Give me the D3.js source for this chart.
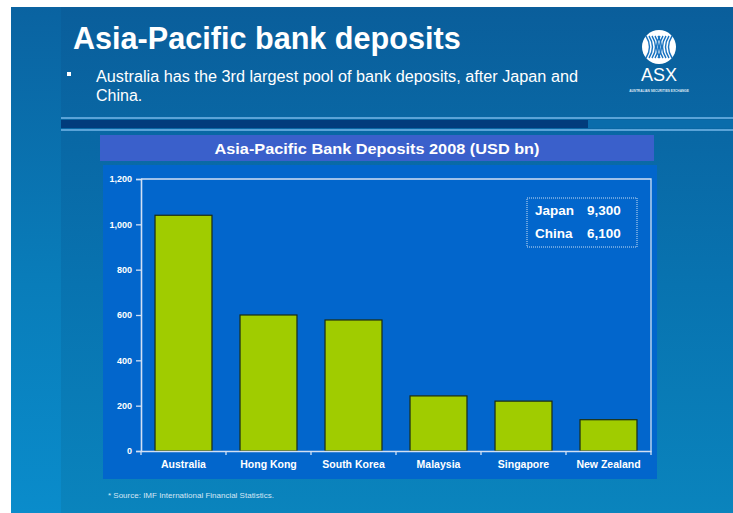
<!DOCTYPE html>
<html>
<head>
<meta charset="utf-8">
<script src="https://cdn.jsdelivr.net/npm/d3@7"></script>
<style>
  body { margin: 0; background: #fff; }
  svg { display: block; font-family: "Liberation Sans", Arial, sans-serif; }
</style>
</head>
<body>
<svg id="canvas" width="733" height="513"></svg>
<script>
'use strict';

/* chart data */
const countries = ['Australia', 'Hong Kong', 'South Korea', 'Malaysia', 'Singapore', 'New Zealand'];
const deposits = [1040, 600, 578, 243, 220, 138];
const yTicks = [0, 200, 400, 600, 800, 1000, 1200];
const offChart = [{name: 'Japan', value: '9,300'}, {name: 'China', value: '6,100'}];

const svg = d3.select('#canvas');
const defs = svg.append('defs');

/* slide background */
const bg = defs.append('linearGradient').attr('id', 'bg').attr('x1', 0).attr('y1', 0).attr('x2', 0).attr('y2', 1);
bg.append('stop').attr('offset', 0).attr('stop-color', '#0a5e9b');
bg.append('stop').attr('offset', 0.55).attr('stop-color', '#0873b0');
bg.append('stop').attr('offset', 1).attr('stop-color', '#0a84bd');
const bgl = defs.append('linearGradient').attr('id', 'bgl').attr('x1', 0).attr('y1', 0).attr('x2', 0).attr('y2', 1);
bgl.append('stop').attr('offset', 0).attr('stop-color', '#0a63a1');
bgl.append('stop').attr('offset', 0.55).attr('stop-color', '#097dba');
bgl.append('stop').attr('offset', 1).attr('stop-color', '#0a8ccb');

svg.append('rect').attr('x', 11).attr('y', 7).attr('width', 722).attr('height', 506).attr('fill', 'url(#bg)');
svg.append('rect').attr('x', 11).attr('y', 7).attr('width', 50).attr('height', 506).attr('fill', 'url(#bgl)');

/* separator band under the heading */
svg.append('rect').attr('x', 61).attr('y', 117).attr('width', 672).attr('height', 2).attr('fill', '#5aa3d8');
svg.append('rect').attr('x', 61).attr('y', 120).attr('width', 527).attr('height', 8).attr('fill', '#023c7c');
svg.append('rect').attr('x', 588).attr('y', 120).attr('width', 145).attr('height', 8).attr('fill', '#0a6cab');
svg.append('rect').attr('x', 61).attr('y', 129).attr('width', 672).attr('height', 2).attr('fill', '#5aa3d8');

/* heading and bullet */
svg.append('text').attr('x', 73).attr('y', 49)
  .attr('fill', '#fff').attr('font-size', 30.6).attr('font-weight', 'bold')
  .text('Asia-Pacific bank deposits');
svg.append('rect').attr('x', 67).attr('y', 72).attr('width', 4).attr('height', 4).attr('fill', '#fff');
svg.append('text').attr('x', 96).attr('y', 82).attr('fill', '#fff').attr('font-size', 16)
  .attr('textLength', 482).attr('lengthAdjust', 'spacingAndGlyphs')
  .text('Australia has the 3rd largest pool of bank deposits, after Japan and');
svg.append('text').attr('x', 96).attr('y', 101).attr('fill', '#fff').attr('font-size', 16)
  .text('China.');

/* ASX logo */
const logo = svg.append('g').attr('transform', 'translate(659,47)');
logo.append('circle').attr('r', 17).attr('fill', '#fff');
[-6, -3, 0, 3, 6].forEach(function(d){
  logo.append('path')
    .attr('d', 'M' + (d - 7) + ',-11 Q' + d + ',0 ' + (d - 7) + ',11')
    .attr('stroke', '#1a74c0').attr('stroke-width', 1.4).attr('fill', 'none');
  logo.append('path')
    .attr('d', 'M' + (-d + 7) + ',-11 Q' + (-d) + ',0 ' + (-d + 7) + ',11')
    .attr('stroke', '#1a74c0').attr('stroke-width', 1.4).attr('fill', 'none');
});
logo.append('text').attr('y', 34).attr('text-anchor', 'middle').attr('fill', '#fff')
  .attr('font-size', 18).text('ASX');
logo.append('text').attr('y', 45).attr('text-anchor', 'middle').attr('fill', '#dfe8f5')
  .attr('font-size', 3.2).attr('font-weight', 'bold').text('AUSTRALIAN SECURITIES EXCHANGE');

/* chart header and panel */
svg.append('rect').attr('x', 100).attr('y', 135).attr('width', 554).attr('height', 26).attr('fill', '#3a60cb');
svg.append('text').attr('x', 377).attr('y', 153.5).attr('text-anchor', 'middle')
  .attr('fill', '#fff').attr('font-size', 15).attr('font-weight', 'bold')
  .attr('textLength', 325).attr('lengthAdjust', 'spacingAndGlyphs')
  .text('Asia-Pacific Bank Deposits 2008 (USD bn)');
svg.append('rect').attr('x', 103).attr('y', 165).attr('width', 554).attr('height', 314).attr('fill', '#0266cc');

/* plot area */
const plotLeft = 141, plotRight = 651, plotTop = 179, plotBottom = 451;
const x = d3.scaleBand().domain(countries).range([plotLeft, plotRight]).paddingInner(0.33).paddingOuter(0.165);
const y = d3.scaleLinear().domain([0, 1200]).range([plotBottom, plotTop]);
const axisColor = '#d2e0f4';

/* top and right frame */
svg.append('path')
  .attr('d', 'M' + plotLeft + ',' + plotTop + 'H' + plotRight + 'V' + plotBottom)
  .attr('stroke', axisColor).attr('stroke-width', 1.3).attr('fill', 'none');

svg.append('g').selectAll('rect')
  .data(deposits)
  .enter().append('rect')
    .attr('x', function(d, i){ return x(countries[i]); })
    .attr('y', function(d){ return y(d); })
    .attr('width', x.bandwidth())
    .attr('height', function(d){ return plotBottom - y(d); })
    .attr('fill', '#a0cc00')
    .attr('stroke', '#1c2c12').attr('stroke-width', 1.2);

/* y axis */
const yAxis = svg.append('g').attr('transform', 'translate(' + plotLeft + ',0)')
  .call(d3.axisLeft(y).tickValues(yTicks).tickSize(5).tickPadding(4).tickFormat(d3.format(',')));
yAxis.select('.domain').attr('stroke', axisColor).attr('stroke-width', 1.6);
yAxis.selectAll('.tick line').attr('stroke', axisColor).attr('stroke-width', 1.3);
yAxis.selectAll('.tick text').attr('fill', '#fff').attr('font-size', 9).attr('font-weight', 'bold')
  .attr('font-family', '"Liberation Sans", Arial, sans-serif');

/* x axis with ticks between the categories */
const xAxis = svg.append('g').attr('transform', 'translate(0,' + plotBottom + ')')
  .call(d3.axisBottom(x).tickSize(0).tickPadding(10));
xAxis.select('.domain').attr('stroke', axisColor).attr('stroke-width', 1.6);
xAxis.selectAll('.tick text').attr('fill', '#fff').attr('font-size', 10.5).attr('font-weight', 'bold')
  .attr('font-family', '"Liberation Sans", Arial, sans-serif');
xAxis.selectAll('.sep')
  .data(d3.range(countries.length + 1))
  .enter().append('line')
    .attr('x1', function(i){ return plotLeft + i * x.step(); })
    .attr('x2', function(i){ return plotLeft + i * x.step(); })
    .attr('y1', 0).attr('y2', 4)
    .attr('stroke', axisColor).attr('stroke-width', 1.3);

/* note box for the two off-scale markets */
svg.append('rect').attr('x', 527).attr('y', 198).attr('width', 110).attr('height', 49)
  .attr('fill', 'none').attr('stroke', '#fff').attr('stroke-width', 0.8).attr('stroke-dasharray', '1,1');
const notes = svg.append('g').selectAll('g')
  .data(offChart)
  .enter().append('g')
    .attr('transform', function(d, i){ return 'translate(0,' + (215 + i * 23) + ')'; });
notes.append('text').attr('x', 535).attr('fill', '#fff').attr('font-size', 13.5).attr('font-weight', 'bold')
  .text(function(d){ return d.name; });
notes.append('text').attr('x', 587).attr('fill', '#fff').attr('font-size', 13.5).attr('font-weight', 'bold')
  .text(function(d){ return d.value; });

/* source line */
svg.append('text').attr('x', 108).attr('y', 498).attr('fill', '#d6e6f4').attr('font-size', 8)
  .text('* Source: IMF International Financial Statistics.');
</script>
</body>
</html>
